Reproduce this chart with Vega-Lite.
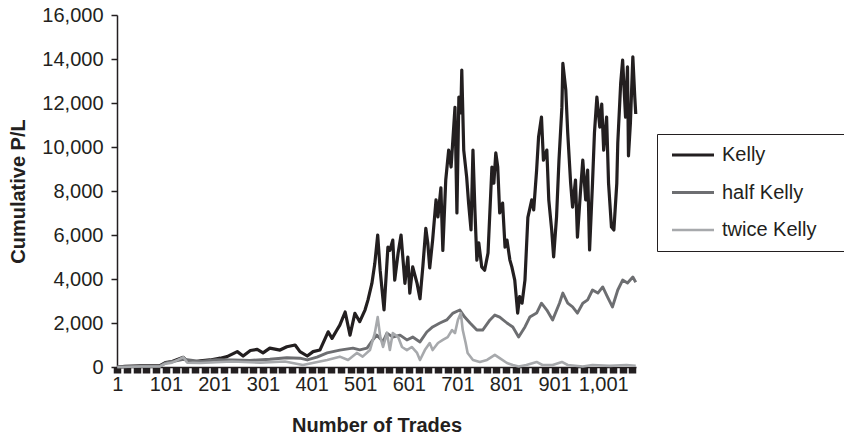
{
  "$schema": "https://vega.github.io/schema/vega-lite/v6.json",
  "width": 519,
  "height": 352,
  "autosize": "none",
  "padding": {"left": 117, "top": 15, "right": 208, "bottom": 71},
  "background": "white",
  "config": {
    "view": {"stroke": null},
    "font": "Liberation Sans",
    "axis": {"labelFont": "Liberation Sans", "titleFont": "Liberation Sans", "labelFontSize": 20, "titleFontSize": 20, "labelColor": "#231f20", "titleColor": "#231f20", "domainColor": "#231f20", "tickColor": "#231f20", "grid": false},
    "legend": {"labelFont": "Liberation Sans", "labelFontSize": 20, "labelColor": "#231f20"}
  },
  "data": {"values": [
    {"trade":1,"series":"Kelly","pl":0},{"trade":17,"series":"Kelly","pl":30},{"trade":48,"series":"Kelly","pl":50},{"trade":89,"series":"Kelly","pl":60},{"trade":100,"series":"Kelly","pl":200},{"trade":114,"series":"Kelly","pl":250},{"trade":137,"series":"Kelly","pl":440},{"trade":145,"series":"Kelly","pl":250},{"trade":161,"series":"Kelly","pl":240},{"trade":172,"series":"Kelly","pl":280},{"trade":192,"series":"Kelly","pl":320},{"trade":213,"series":"Kelly","pl":400},{"trade":227,"series":"Kelly","pl":470},{"trade":248,"series":"Kelly","pl":700},{"trade":260,"series":"Kelly","pl":500},{"trade":275,"series":"Kelly","pl":750},{"trade":289,"series":"Kelly","pl":800},{"trade":301,"series":"Kelly","pl":640},{"trade":315,"series":"Kelly","pl":860},{"trade":336,"series":"Kelly","pl":770},{"trade":350,"series":"Kelly","pl":920},{"trade":367,"series":"Kelly","pl":1000},{"trade":377,"series":"Kelly","pl":700},{"trade":392,"series":"Kelly","pl":500},{"trade":404,"series":"Kelly","pl":700},{"trade":418,"series":"Kelly","pl":770},{"trade":435,"series":"Kelly","pl":1600},{"trade":443,"series":"Kelly","pl":1300},{"trade":453,"series":"Kelly","pl":1680},{"trade":459,"series":"Kelly","pl":1900},{"trade":470,"series":"Kelly","pl":2500},{"trade":480,"series":"Kelly","pl":1450},{"trade":490,"series":"Kelly","pl":2440},{"trade":500,"series":"Kelly","pl":2060},{"trade":511,"series":"Kelly","pl":2600},{"trade":517,"series":"Kelly","pl":3050},{"trade":525,"series":"Kelly","pl":3800},{"trade":531,"series":"Kelly","pl":4700},{"trade":537,"series":"Kelly","pl":6000},{"trade":542,"series":"Kelly","pl":4400},{"trade":550,"series":"Kelly","pl":2600},{"trade":558,"series":"Kelly","pl":5450},{"trade":562,"series":"Kelly","pl":5300},{"trade":568,"series":"Kelly","pl":5770},{"trade":572,"series":"Kelly","pl":3950},{"trade":579,"series":"Kelly","pl":5180},{"trade":585,"series":"Kelly","pl":6000},{"trade":593,"series":"Kelly","pl":3800},{"trade":599,"series":"Kelly","pl":5000},{"trade":603,"series":"Kelly","pl":3360},{"trade":609,"series":"Kelly","pl":4550},{"trade":618,"series":"Kelly","pl":3800},{"trade":624,"series":"Kelly","pl":3100},{"trade":630,"series":"Kelly","pl":4600},{"trade":636,"series":"Kelly","pl":6300},{"trade":640,"series":"Kelly","pl":5640},{"trade":644,"series":"Kelly","pl":4500},{"trade":650,"series":"Kelly","pl":5770},{"trade":657,"series":"Kelly","pl":7600},{"trade":661,"series":"Kelly","pl":6820},{"trade":667,"series":"Kelly","pl":8140},{"trade":671,"series":"Kelly","pl":5300},{"trade":677,"series":"Kelly","pl":8500},{"trade":683,"series":"Kelly","pl":9860},{"trade":688,"series":"Kelly","pl":9090},{"trade":696,"series":"Kelly","pl":11800},{"trade":700,"series":"Kelly","pl":7000},{"trade":704,"series":"Kelly","pl":12270},{"trade":708,"series":"Kelly","pl":11550},{"trade":710,"series":"Kelly","pl":13500},{"trade":714,"series":"Kelly","pl":9860},{"trade":720,"series":"Kelly","pl":8640},{"trade":724,"series":"Kelly","pl":7450},{"trade":729,"series":"Kelly","pl":6230},{"trade":733,"series":"Kelly","pl":9860},{"trade":737,"series":"Kelly","pl":7140},{"trade":741,"series":"Kelly","pl":4860},{"trade":745,"series":"Kelly","pl":5640},{"trade":751,"series":"Kelly","pl":4550},{"trade":757,"series":"Kelly","pl":4400},{"trade":764,"series":"Kelly","pl":5180},{"trade":772,"series":"Kelly","pl":9090},{"trade":776,"series":"Kelly","pl":8360},{"trade":780,"series":"Kelly","pl":9730},{"trade":784,"series":"Kelly","pl":9090},{"trade":788,"series":"Kelly","pl":7000},{"trade":794,"series":"Kelly","pl":7450},{"trade":799,"series":"Kelly","pl":5450},{"trade":803,"series":"Kelly","pl":5770},{"trade":809,"series":"Kelly","pl":4860},{"trade":813,"series":"Kelly","pl":4550},{"trade":819,"series":"Kelly","pl":3950},{"trade":825,"series":"Kelly","pl":2450},{"trade":829,"series":"Kelly","pl":3200},{"trade":834,"series":"Kelly","pl":2900},{"trade":840,"series":"Kelly","pl":3950},{"trade":846,"series":"Kelly","pl":6800},{"trade":854,"series":"Kelly","pl":7600},{"trade":858,"series":"Kelly","pl":7140},{"trade":864,"series":"Kelly","pl":8950},{"trade":868,"series":"Kelly","pl":10450},{"trade":874,"series":"Kelly","pl":11360},{"trade":878,"series":"Kelly","pl":9400},{"trade":885,"series":"Kelly","pl":9860},{"trade":889,"series":"Kelly","pl":7600},{"trade":895,"series":"Kelly","pl":6230},{"trade":899,"series":"Kelly","pl":5000},{"trade":905,"series":"Kelly","pl":6820},{"trade":910,"series":"Kelly","pl":9400},{"trade":916,"series":"Kelly","pl":11800},{"trade":918,"series":"Kelly","pl":13800},{"trade":924,"series":"Kelly","pl":12600},{"trade":928,"series":"Kelly","pl":10640},{"trade":934,"series":"Kelly","pl":8360},{"trade":938,"series":"Kelly","pl":7270},{"trade":944,"series":"Kelly","pl":8500},{"trade":948,"series":"Kelly","pl":5900},{"trade":954,"series":"Kelly","pl":7900},{"trade":959,"series":"Kelly","pl":9400},{"trade":965,"series":"Kelly","pl":7600},{"trade":969,"series":"Kelly","pl":8950},{"trade":973,"series":"Kelly","pl":5320},{"trade":979,"series":"Kelly","pl":8360},{"trade":983,"series":"Kelly","pl":10640},{"trade":988,"series":"Kelly","pl":12270},{"trade":994,"series":"Kelly","pl":10900},{"trade":998,"series":"Kelly","pl":11950},{"trade":1002,"series":"Kelly","pl":9860},{"trade":1008,"series":"Kelly","pl":11360},{"trade":1012,"series":"Kelly","pl":8360},{"trade":1018,"series":"Kelly","pl":6360},{"trade":1023,"series":"Kelly","pl":6230},{"trade":1029,"series":"Kelly","pl":8360},{"trade":1031,"series":"Kelly","pl":10180},{"trade":1037,"series":"Kelly","pl":12900},{"trade":1041,"series":"Kelly","pl":13950},{"trade":1047,"series":"Kelly","pl":11360},{"trade":1051,"series":"Kelly","pl":13640},{"trade":1053,"series":"Kelly","pl":9600},{"trade":1057,"series":"Kelly","pl":11090},{"trade":1062,"series":"Kelly","pl":14100},{"trade":1066,"series":"Kelly","pl":12270},{"trade":1068,"series":"Kelly","pl":11500},
    {"trade":1,"series":"half Kelly","pl":0},{"trade":48,"series":"half Kelly","pl":30},{"trade":89,"series":"half Kelly","pl":40},{"trade":100,"series":"half Kelly","pl":180},{"trade":137,"series":"half Kelly","pl":350},{"trade":172,"series":"half Kelly","pl":250},{"trade":205,"series":"half Kelly","pl":330},{"trade":239,"series":"half Kelly","pl":320},{"trade":274,"series":"half Kelly","pl":300},{"trade":315,"series":"half Kelly","pl":350},{"trade":350,"series":"half Kelly","pl":420},{"trade":377,"series":"half Kelly","pl":400},{"trade":392,"series":"half Kelly","pl":320},{"trade":412,"series":"half Kelly","pl":450},{"trade":433,"series":"half Kelly","pl":640},{"trade":459,"series":"half Kelly","pl":770},{"trade":486,"series":"half Kelly","pl":860},{"trade":500,"series":"half Kelly","pl":780},{"trade":515,"series":"half Kelly","pl":860},{"trade":527,"series":"half Kelly","pl":1230},{"trade":535,"series":"half Kelly","pl":1450},{"trade":548,"series":"half Kelly","pl":1150},{"trade":556,"series":"half Kelly","pl":1540},{"trade":568,"series":"half Kelly","pl":1360},{"trade":583,"series":"half Kelly","pl":1450},{"trade":597,"series":"half Kelly","pl":1230},{"trade":609,"series":"half Kelly","pl":1360},{"trade":624,"series":"half Kelly","pl":1140},{"trade":638,"series":"half Kelly","pl":1590},{"trade":650,"series":"half Kelly","pl":1820},{"trade":665,"series":"half Kelly","pl":2000},{"trade":679,"series":"half Kelly","pl":2140},{"trade":692,"series":"half Kelly","pl":2450},{"trade":706,"series":"half Kelly","pl":2590},{"trade":716,"series":"half Kelly","pl":2270},{"trade":727,"series":"half Kelly","pl":2000},{"trade":741,"series":"half Kelly","pl":1680},{"trade":753,"series":"half Kelly","pl":1680},{"trade":768,"series":"half Kelly","pl":2140},{"trade":778,"series":"half Kelly","pl":2360},{"trade":788,"series":"half Kelly","pl":2270},{"trade":803,"series":"half Kelly","pl":2000},{"trade":815,"series":"half Kelly","pl":1820},{"trade":827,"series":"half Kelly","pl":1360},{"trade":840,"series":"half Kelly","pl":1820},{"trade":850,"series":"half Kelly","pl":2270},{"trade":864,"series":"half Kelly","pl":2450},{"trade":874,"series":"half Kelly","pl":2900},{"trade":885,"series":"half Kelly","pl":2590},{"trade":897,"series":"half Kelly","pl":2140},{"trade":911,"series":"half Kelly","pl":2900},{"trade":918,"series":"half Kelly","pl":3360},{"trade":928,"series":"half Kelly","pl":2900},{"trade":938,"series":"half Kelly","pl":2730},{"trade":948,"series":"half Kelly","pl":2450},{"trade":959,"series":"half Kelly","pl":2900},{"trade":969,"series":"half Kelly","pl":3050},{"trade":979,"series":"half Kelly","pl":3500},{"trade":990,"series":"half Kelly","pl":3360},{"trade":1000,"series":"half Kelly","pl":3640},{"trade":1010,"series":"half Kelly","pl":3180},{"trade":1020,"series":"half Kelly","pl":2730},{"trade":1031,"series":"half Kelly","pl":3500},{"trade":1041,"series":"half Kelly","pl":3950},{"trade":1051,"series":"half Kelly","pl":3820},{"trade":1062,"series":"half Kelly","pl":4090},{"trade":1068,"series":"half Kelly","pl":3850},
    {"trade":1,"series":"twice Kelly","pl":0},{"trade":48,"series":"twice Kelly","pl":20},{"trade":89,"series":"twice Kelly","pl":30},{"trade":100,"series":"twice Kelly","pl":150},{"trade":114,"series":"twice Kelly","pl":200},{"trade":137,"series":"twice Kelly","pl":450},{"trade":145,"series":"twice Kelly","pl":200},{"trade":172,"series":"twice Kelly","pl":180},{"trade":237,"series":"twice Kelly","pl":250},{"trade":295,"series":"twice Kelly","pl":200},{"trade":346,"series":"twice Kelly","pl":250},{"trade":383,"series":"twice Kelly","pl":90},{"trade":408,"series":"twice Kelly","pl":200},{"trade":433,"series":"twice Kelly","pl":320},{"trade":459,"series":"twice Kelly","pl":470},{"trade":476,"series":"twice Kelly","pl":320},{"trade":494,"series":"twice Kelly","pl":640},{"trade":506,"series":"twice Kelly","pl":470},{"trade":521,"series":"twice Kelly","pl":770},{"trade":531,"series":"twice Kelly","pl":1540},{"trade":537,"series":"twice Kelly","pl":2270},{"trade":542,"series":"twice Kelly","pl":1400},{"trade":548,"series":"twice Kelly","pl":910},{"trade":556,"series":"twice Kelly","pl":1540},{"trade":562,"series":"twice Kelly","pl":770},{"trade":568,"series":"twice Kelly","pl":1540},{"trade":579,"series":"twice Kelly","pl":1360},{"trade":587,"series":"twice Kelly","pl":910},{"trade":597,"series":"twice Kelly","pl":770},{"trade":607,"series":"twice Kelly","pl":910},{"trade":618,"series":"twice Kelly","pl":640},{"trade":624,"series":"twice Kelly","pl":320},{"trade":634,"series":"twice Kelly","pl":770},{"trade":644,"series":"twice Kelly","pl":1090},{"trade":650,"series":"twice Kelly","pl":770},{"trade":661,"series":"twice Kelly","pl":1090},{"trade":671,"series":"twice Kelly","pl":1230},{"trade":681,"series":"twice Kelly","pl":1360},{"trade":690,"series":"twice Kelly","pl":1680},{"trade":696,"series":"twice Kelly","pl":1540},{"trade":702,"series":"twice Kelly","pl":2140},{"trade":708,"series":"twice Kelly","pl":2450},{"trade":712,"series":"twice Kelly","pl":1680},{"trade":718,"series":"twice Kelly","pl":1090},{"trade":722,"series":"twice Kelly","pl":640},{"trade":733,"series":"twice Kelly","pl":320},{"trade":747,"series":"twice Kelly","pl":230},{"trade":762,"series":"twice Kelly","pl":320},{"trade":778,"series":"twice Kelly","pl":550},{"trade":788,"series":"twice Kelly","pl":400},{"trade":803,"series":"twice Kelly","pl":180},{"trade":815,"series":"twice Kelly","pl":90},{"trade":827,"series":"twice Kelly","pl":20},{"trade":843,"series":"twice Kelly","pl":90},{"trade":864,"series":"twice Kelly","pl":230},{"trade":876,"series":"twice Kelly","pl":90},{"trade":897,"series":"twice Kelly","pl":90},{"trade":916,"series":"twice Kelly","pl":230},{"trade":928,"series":"twice Kelly","pl":90},{"trade":959,"series":"twice Kelly","pl":20},{"trade":979,"series":"twice Kelly","pl":90},{"trade":1014,"series":"twice Kelly","pl":50},{"trade":1049,"series":"twice Kelly","pl":90},{"trade":1068,"series":"twice Kelly","pl":60}
  ]},
  "mark": {"type": "line", "strokeJoin": "round"},
  "encoding": {
    "x": {
      "field": "trade", "type": "quantitative",
      "scale": {"domain": [0.5, 1068.5], "nice": false, "zero": false},
      "axis": {
        "title": "Number of Trades", "titleFontWeight": "bold", "titlePadding": 21,
        "labelFontSize": 20, "titleFontSize": 20,
        "values": [1,21,41,61,81,101,121,141,161,181,201,221,241,261,281,301,321,341,361,381,401,421,441,461,481,501,521,541,561,581,601,621,641,661,681,701,721,741,761,781,801,821,841,861,881,901,921,941,961,981,1001,1021,1041,1061],
        "labelExpr": "(datum.value - 1) % 100 == 0 ? format(datum.value, ',.0f') : ''",
        "labelOverlap": false, "labelFlush": false,
        "tickSize": 6, "tickWidth": 7.5, "domainWidth": 1.5, "labelPadding": 1
      }
    },
    "y": {
      "field": "pl", "type": "quantitative",
      "scale": {"domain": [0, 16000], "nice": false},
      "axis": {
        "title": "Cumulative P/L", "titleFontWeight": "bold", "titlePadding": 13,
        "labelFontSize": 20, "titleFontSize": 20,
        "values": [0,2000,4000,6000,8000,10000,12000,14000,16000],
        "labelExpr": "format(datum.value, ',.0f')", "tickSize": 6, "tickWidth": 1.5, "domainWidth": 1.5, "labelPadding": 8
      }
    },
    "color": {
      "field": "series", "type": "nominal",
      "scale": {"domain": ["Kelly", "half Kelly", "twice Kelly"], "range": ["#231f20", "#6d6e71", "#a7a9ac"]},
      "legend": {
        "title": null, "orient": "none", "legendX": 540, "legendY": 119,
        "symbolType": "M-3,0H3M19.8,0", "symbolSize": 196, "symbolStrokeWidth": 2, "symbolOffset": 15,
        "strokeColor": "#231f20", "fillColor": "white", "padding": 11,
        "rowPadding": 17.5, "labelOffset": 19, "labelFontSize": 20
      }
    },
    "strokeWidth": {
      "field": "series", "type": "nominal",
      "scale": {"domain": ["Kelly", "half Kelly", "twice Kelly"], "range": [3.2, 2.6, 2.6]},
      "legend": null
    }
  }
}
